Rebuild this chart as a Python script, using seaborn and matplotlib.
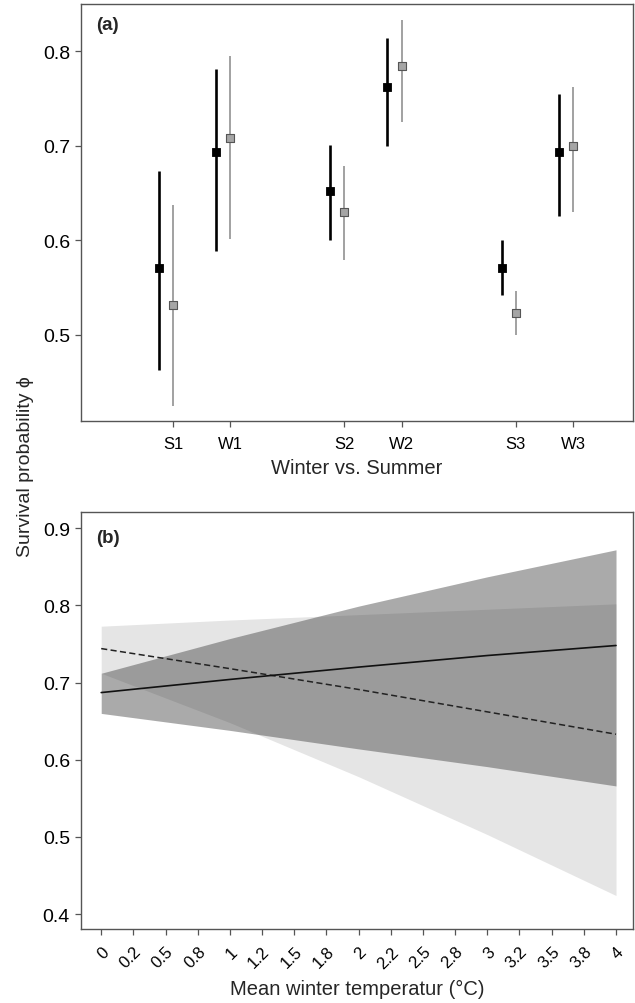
import numpy as np
import pandas as pd
import matplotlib
matplotlib.use("Agg")
import matplotlib.pyplot as plt
import seaborn as sns

# ---------------- data panel (a) ----------------
periods = ["S1", "W1", "S2", "W2", "S3", "W3"]
model1_est = [0.571, 0.694, 0.652, 0.762, 0.571, 0.694]
model1_lo = [0.463, 0.589, 0.600, 0.700, 0.542, 0.626]
model1_hi = [0.673, 0.781, 0.701, 0.814, 0.600, 0.755]
model2_est = [0.532, 0.708, 0.630, 0.784, 0.523, 0.700]
model2_lo = [0.425, 0.602, 0.579, 0.725, 0.500, 0.630]
model2_hi = [0.637, 0.795, 0.679, 0.833, 0.546, 0.762]

# ---------------- data panel (b) ----------------
temp = [0, 1, 2, 3, 4]
dashed_fit = [0.744, 0.718, 0.691, 0.662, 0.633]
dashed_lo = [0.712, 0.648, 0.578, 0.503, 0.424]
dashed_hi = [0.773, 0.781, 0.788, 0.795, 0.802]
solid_fit = [0.687, 0.704, 0.720, 0.735, 0.748]
solid_lo = [0.660, 0.638, 0.614, 0.591, 0.566]
solid_hi = [0.712, 0.757, 0.799, 0.837, 0.872]
temp_ticks = [0, 0.25, 0.5, 0.75, 1, 1.25, 1.5, 1.75, 2, 2.25, 2.5, 2.75, 3, 3.25, 3.5, 3.75, 4]
temp_labels = ["0", "0.2", "0.5", "0.8", "1", "1.2", "1.5", "1.8", "2", "2.2",
               "2.5", "2.8", "3", "3.2", "3.5", "3.8", "4"]

sns.set_style("ticks")
plt.rcParams['font.family'] = ['Liberation Sans', 'DejaVu Sans']
plt.rcParams['axes.edgecolor'] = '#555555'
plt.rcParams['xtick.color'] = '#555555'
plt.rcParams['ytick.color'] = '#555555'
plt.rcParams['xtick.labelcolor'] = 'black'
plt.rcParams['ytick.labelcolor'] = 'black'

fig = plt.figure(figsize=(6.35, 10.04), dpi=100)
axA = fig.add_axes([81/635, 1-422/1004, 552/635, 417/1004])
axB = fig.add_axes([81/635, 1-930/1004, 552/635, 417/1004])

# positions: pairs separated by a gap
pos = np.array([(i // 2) * 3 + (i % 2) + 1 for i in range(len(periods))], dtype=float)
dfA = pd.DataFrame({"period": periods, "pos": pos,
                    "m1": model1_est, "m1lo": model1_lo, "m1hi": model1_hi,
                    "m2": model2_est, "m2lo": model2_lo, "m2hi": model2_hi})
off = -0.25
axA.vlines(dfA["pos"] + off, dfA["m1lo"], dfA["m1hi"], color="black", lw=1.9, zorder=2)
axA.vlines(dfA["pos"], dfA["m2lo"], dfA["m2hi"], color="#9a9a9a", lw=1.3, zorder=2)
sns.scatterplot(x=dfA["pos"] + off, y=dfA["m1"], ax=axA, marker="s", s=34,
                color="black", edgecolor="black", linewidth=0.6, zorder=3)
sns.scatterplot(x=dfA["pos"], y=dfA["m2"], ax=axA, marker="s", s=34,
                color="#a5a5a5", edgecolor="#555555", linewidth=0.8, zorder=3)
axA.set_xlim(-0.61, 9.05)
axA.set_ylim(0.409, 0.850)
axA.set_xticks(pos)
axA.set_xticklabels(periods, fontsize=12)
axA.set_yticks([0.5, 0.6, 0.7, 0.8])
axA.set_yticklabels(["0.5", "0.6", "0.7", "0.8"], fontsize=14)
axA.set_xlabel("Winter vs. Summer", fontsize=14.5, labelpad=5)
axA.set_ylabel("")
axA.tick_params(axis="x", pad=6.5)
axA.text(0.027, 0.95, "(a)", transform=axA.transAxes, fontsize=13.5,
         fontweight="bold", ha="left", va="center")

# ---------------- panel (b) ----------------
dfB = pd.DataFrame({"temp": temp, "dfit": dashed_fit, "dlo": dashed_lo, "dhi": dashed_hi,
                    "sfit": solid_fit, "slo": solid_lo, "shi": solid_hi})
axB.fill_between(dfB["temp"], dfB["dlo"], dfB["dhi"], color="#e5e5e5", lw=0, zorder=1)
axB.fill_between(dfB["temp"], dfB["slo"], dfB["shi"], color="#363636", alpha=0.42, lw=0, zorder=2)
sns.lineplot(data=dfB, x="temp", y="dfit", ax=axB, color="#222222", lw=1.1,
             linestyle=(0, (4, 2.2)), zorder=3)
sns.lineplot(data=dfB, x="temp", y="sfit", ax=axB, color="#111111", lw=1.2, zorder=3)
axB.set_xlim(-0.157, 4.132)
axB.set_ylim(0.3806, 0.921)
axB.set_xticks(temp_ticks)
axB.set_xticklabels(temp_labels, fontsize=12, rotation=45, ha="right",
                    rotation_mode="anchor")
axB.set_yticks([0.4, 0.5, 0.6, 0.7, 0.8, 0.9])
axB.set_yticklabels(["0.4", "0.5", "0.6", "0.7", "0.8", "0.9"], fontsize=14)
axB.set_xlabel("Mean winter temperatur (°C)", fontsize=14.5, labelpad=6)
axB.set_ylabel("")
axB.tick_params(axis="x", pad=6)
axB.text(0.027, 0.94, "(b)", transform=axB.transAxes, fontsize=13.5,
         fontweight="bold", ha="left", va="center")

for ax in (axA, axB):
    ax.tick_params(length=4.5, width=0.9)
    for s in ax.spines.values():
        s.set_linewidth(1.0)

fig.text(0.04, 1-467/1004, "Survival probability \u03d5", rotation=90,
         fontsize=14, ha="center", va="center")

fig.savefig("out.png", dpi=100)
